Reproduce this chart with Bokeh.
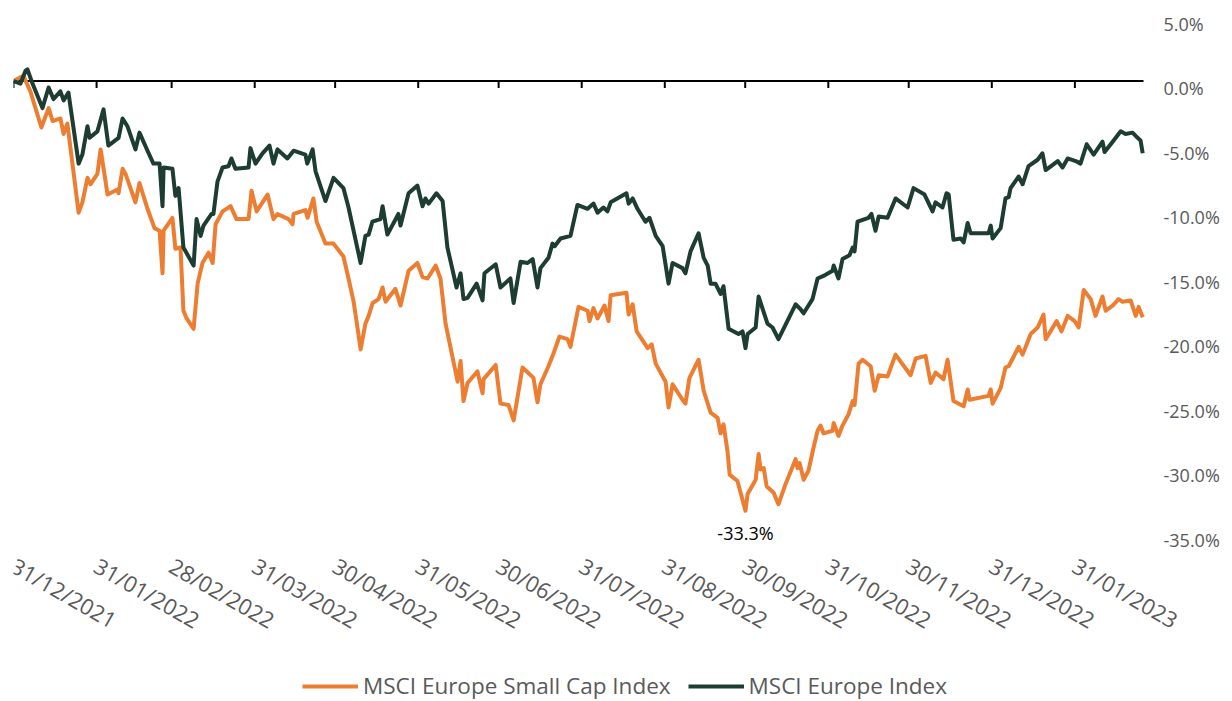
import pandas as pd
from bokeh.plotting import figure
from bokeh.models import (Range1d, LinearAxis, FixedTicker, PrintfTickFormatter,
                          Legend, LegendItem, Label, ColumnDataSource)
from bokeh.embed import file_html
from bokeh.resources import INLINE

# ---------------- data ----------------
tick_labels = ["31/12/2021", "31/01/2022", "28/02/2022", "31/03/2022", "30/04/2022",
               "31/05/2022", "30/06/2022", "31/07/2022", "31/08/2022", "30/09/2022",
               "31/10/2022", "30/11/2022", "31/12/2022", "31/01/2023"]
y_ticks = [5, 0, -5, -10, -15, -20, -25, -30, -35]

# days since 31/12/2021
europe_days = [
    0, 2.6, 4.5, 5.2, 7.1, 10.8, 13.1, 14.9, 17.5, 18.7,
    20.5, 24.3, 25.7, 27.6, 28.4, 31.3, 33.6, 35.4, 39.2, 40.7,
    42.5, 45.5, 47.0, 50.0, 52.2, 54.5, 55.6, 56.0, 59.3, 60.4,
    61.6, 63.4, 67.2, 68.3, 69.8, 70.9, 73.9, 74.6, 76.1, 78.0,
    80.2, 81.3, 82.8, 87.7, 88.4, 90.3, 92.9, 95.5, 97.0, 98.5,
    102.2, 104.5, 108.9, 109.6, 111.6, 112.7, 116.4, 119.4, 123.1, 125.0,
    129.5, 131.3, 132.5, 133.9, 136.9, 137.7, 139.5, 143.6, 144.4, 147.4,
    150.7, 152.6, 153.7, 154.9, 157.8, 160.1, 161.9, 165.3, 166.8, 167.9,
    169.4, 172.8, 175.0, 175.7, 179.9, 181.7, 185.4, 186.6, 189.2, 191.8,
    193.7, 195.5, 196.6, 199.6, 201.1, 201.9, 204.1, 207.8, 210.4, 214.2,
    216.4, 217.9, 220.1, 221.6, 222.8, 228.7, 229.5, 231.0, 232.8, 235.8,
    237.3, 239.6, 242.2, 244.4, 245.9, 249.6, 250.7, 252.6, 255.6, 257.5,
    259.0, 260.1, 261.9, 263.8, 264.9, 266.8, 270.5, 272.0, 273.1, 273.9,
    276.9, 278.0, 281.3, 283.2, 285.4, 291.8, 293.7, 294.8, 298.1, 300.0,
    302.2, 305.6, 306.0, 307.8, 309.3, 311.9, 313.1, 313.8, 314.9, 319.0,
    320.1, 321.6, 322.8, 326.1, 329.1, 333.6, 335.8, 339.9, 342.9, 344.0,
    346.6, 348.1, 348.9, 350.7, 353.4, 354.5, 356.0, 357.1, 363.8, 364.6,
    365.3, 368.3, 370.1, 371.3, 372.0, 375.0, 376.5, 378.7, 382.1, 383.9,
    385.1, 389.6, 391.4, 393.3, 396.3, 398.1, 400.4, 403.0, 406.3, 407.1,
    410.1, 413.1, 414.9, 417.5, 419.4, 420.5, 421.3]
europe_values = [
    0.0, -0.2, 0.8, 0.9, -0.2, -2.1, -0.5, -1.4, -0.8, -1.5,
    -0.9, -6.4, -5.7, -3.5, -4.4, -3.9, -2.2, -5.0, -4.4, -2.9,
    -3.5, -5.3, -4.0, -5.4, -6.4, -6.4, -9.7, -6.7, -6.8, -8.9,
    -8.3, -12.9, -14.3, -10.7, -12.0, -11.2, -10.3, -10.3, -7.8, -6.7,
    -6.6, -6.0, -6.8, -6.7, -5.2, -6.4, -5.6, -5.0, -6.4, -5.3,
    -6.0, -5.4, -5.7, -6.4, -5.3, -7.0, -9.3, -7.5, -8.3, -9.8,
    -14.1, -12.0, -11.9, -10.9, -10.7, -9.7, -11.9, -10.3, -11.2, -8.7,
    -8.1, -9.7, -9.1, -9.5, -8.7, -9.3, -12.9, -16.0, -14.9, -16.9,
    -16.8, -15.7, -17.0, -14.9, -14.2, -16.0, -15.3, -17.2, -14.0, -14.1,
    -13.8, -16.0, -14.5, -13.7, -12.6, -12.8, -12.2, -12.0, -9.6, -9.9,
    -9.5, -10.2, -9.8, -10.1, -9.4, -8.7, -9.5, -9.1, -9.9, -10.9,
    -10.6, -12.0, -12.8, -15.7, -14.1, -14.5, -14.9, -13.2, -11.8, -13.7,
    -14.3, -15.7, -15.7, -16.5, -15.9, -19.2, -19.6, -19.4, -20.7, -19.6,
    -19.1, -16.7, -18.8, -19.1, -20.0, -17.3, -17.7, -18.0, -16.9, -15.3,
    -15.1, -14.7, -14.3, -15.3, -13.8, -13.5, -12.9, -13.2, -10.9, -10.6,
    -10.3, -11.6, -10.5, -10.6, -9.1, -9.8, -8.3, -8.8, -10.1, -9.4,
    -9.8, -8.7, -8.8, -12.3, -12.2, -12.5, -11.0, -11.8, -11.8, -11.2,
    -12.2, -11.4, -9.1, -9.0, -8.3, -7.4, -8.0, -6.6, -6.1, -5.6,
    -6.9, -6.2, -6.7, -6.0, -6.2, -6.4, -4.9, -5.7, -4.7, -5.5,
    -4.7, -3.9, -4.1, -4.0, -4.4, -4.6, -5.6]

small_cap_days = [
    0, 3.7, 6.3, 10.4, 13.1, 14.6, 17.5, 18.7, 20.1, 24.3,
    25.7, 27.6, 28.7, 31.3, 32.5, 35.1, 38.8, 39.2, 40.7, 41.8,
    45.5, 47.0, 50.0, 52.6, 54.5, 55.6, 56.0, 59.3, 60.4, 62.3,
    63.4, 64.6, 67.2, 68.7, 70.5, 72.8, 74.3, 75.4, 78.0, 81.0,
    83.2, 87.7, 88.8, 90.7, 94.8, 97.0, 98.5, 102.6, 104.1, 104.5,
    108.9, 109.7, 111.9, 113.1, 116.4, 119.4, 123.1, 125.0, 126.9, 128.7,
    129.5, 131.3, 132.5, 134.0, 136.2, 137.7, 138.8, 142.5, 144.4, 147.4,
    150.7, 152.6, 154.5, 157.5, 159.3, 161.2, 165.7, 166.8, 167.9, 169.4,
    173.1, 175.0, 175.4, 179.9, 181.7, 184.7, 186.6, 189.9, 194.0, 195.5,
    196.6, 199.6, 201.5, 203.7, 206.7, 207.8, 210.8, 214.2, 214.9, 216.4,
    217.9, 220.5, 222.0, 222.8, 228.7, 229.5, 231.0, 232.5, 236.6, 238.1,
    239.6, 243.3, 244.4, 245.9, 249.6, 250.7, 252.2, 255.6, 257.5, 260.1,
    262.7, 263.8, 264.9, 266.4, 267.2, 270.1, 273.1, 273.9, 276.9, 278.0,
    278.7, 279.9, 281.0, 283.6, 285.4, 288.1, 291.8, 292.5, 293.3, 294.8,
    296.6, 298.5, 300.0, 301.1, 302.2, 305.6, 306.0, 307.8, 309.3, 311.6,
    313.1, 313.8, 315.3, 316.8, 319.8, 321.3, 322.8, 326.1, 329.1, 334.7,
    336.6, 340.3, 342.2, 344.0, 347.0, 348.5, 350.7, 354.5, 356.0, 356.7,
    363.8, 364.6, 365.3, 368.3, 370.1, 371.3, 372.8, 375.0, 376.5, 379.5,
    382.1, 384.3, 385.1, 386.9, 389.2, 391.0, 393.3, 395.9, 397.4, 399.3,
    401.9, 403.7, 406.3, 407.5, 410.1, 412.3, 413.8, 416.8, 418.7, 419.8, 421.3]
small_cap_values = [
    0.0, 0.4, -0.8, -3.6, -2.1, -3.1, -2.9, -4.1, -3.3, -10.2,
    -9.4, -7.5, -8.0, -7.2, -5.3, -8.8, -8.4, -8.7, -6.8, -7.2,
    -9.4, -7.9, -9.9, -11.4, -11.6, -14.9, -11.6, -10.6, -13.0, -12.9,
    -17.8, -18.4, -19.2, -15.7, -14.1, -13.3, -14.1, -11.1, -10.1, -9.7,
    -10.7, -10.7, -8.5, -10.1, -8.8, -10.7, -10.3, -10.7, -11.1, -10.3,
    -10.0, -10.6, -9.1, -10.9, -12.6, -12.6, -13.6, -15.3, -17.1, -19.6,
    -20.8, -18.8, -18.2, -17.2, -16.9, -16.0, -17.1, -16.1, -17.4, -14.7,
    -14.1, -15.2, -15.3, -14.3, -15.3, -18.8, -23.3, -21.7, -24.8, -23.4,
    -22.5, -24.2, -23.1, -22.0, -25.0, -25.1, -26.3, -22.2, -23.0, -24.9,
    -23.5, -22.1, -21.1, -19.8, -20.0, -20.6, -17.5, -17.8, -18.6, -17.6,
    -18.4, -17.4, -18.6, -16.6, -16.4, -18.1, -17.3, -19.4, -20.7, -20.4,
    -21.9, -23.3, -25.3, -23.5, -24.7, -25.0, -23.0, -21.6, -24.0, -25.7,
    -26.1, -27.3, -26.6, -28.7, -30.5, -31.0, -33.3, -32.0, -30.9, -28.9,
    -30.1, -30.0, -31.4, -31.9, -32.8, -31.2, -29.3, -30.0, -29.6, -30.9,
    -30.2, -28.4, -27.1, -26.7, -27.3, -27.1, -26.5, -27.5, -26.7, -25.8,
    -24.8, -25.1, -21.9, -21.6, -22.1, -24.0, -22.8, -22.9, -21.2, -22.8,
    -21.5, -21.3, -23.4, -22.6, -23.1, -21.6, -24.8, -25.2, -23.9, -24.7,
    -24.4, -23.9, -25.0, -23.8, -22.2, -22.1, -21.5, -20.6, -21.2, -19.6,
    -19.1, -18.1, -20.0, -19.4, -18.6, -19.4, -18.2, -18.6, -19.1, -16.2,
    -16.9, -18.2, -16.7, -17.8, -17.4, -16.9, -17.1, -17.0, -18.2, -17.5, -18.3]

# ---------------- styling ----------------
ORANGE = "#ED7D31"
DARK = "#1D3C32"
GREY = "#595959"
FONT = "Open Sans"

base = pd.Timestamp("2021-12-31")
tick_days = [int((pd.to_datetime(t, dayfirst=True) - base).days) for t in tick_labels]

PX_PER_DAY = 1130 / 421.6
AXIS_END = 421.6           # where the zero axis line ends
EXTRA_PX = 40              # extra frame room on the right for the last rotated label
FRAME_W = 1130 + EXTRA_PX
PX_PER_PCT = 542 / 42.0
FRAME_H = 685
Y1 = 5.0
Y0 = Y1 - FRAME_H / PX_PER_PCT
X_AXIS_AT = -37.0
label_shift = 7 / PX_PER_PCT

p = figure(frame_width=FRAME_W, frame_height=FRAME_H,
           x_range=Range1d(0, AXIS_END + EXTRA_PX / PX_PER_DAY), y_range=Range1d(Y0, Y1),
           output_backend="svg", toolbar_location=None,
           y_axis_location=None,
           min_border_left=13, min_border_top=16, min_border_right=0,
           min_border_bottom=0)
p.outline_line_color = None
p.xgrid.grid_line_color = None
p.ygrid.grid_line_color = None
p.background_fill_color = "white"
p.border_fill_color = "white"

# bottom axis: rotated date labels only (placed inside the frame)
xa = p.xaxis[0]
xa.fixed_location = X_AXIS_AT
xa.ticker = FixedTicker(ticks=tick_days)
xa.major_label_overrides = {d: t for d, t in zip(tick_days, tick_labels)}
xa.major_label_orientation = -0.52
xa.axis_line_color = None
xa.major_tick_line_color = None
xa.minor_tick_line_color = None
xa.major_tick_in = 0
xa.major_tick_out = 0
xa.major_label_standoff = 5
xa.major_label_text_font = FONT
xa.major_label_text_font_size = "22px"
xa.major_label_text_color = GREY

# right axis: percentage labels
p.extra_y_ranges = {"lab": Range1d(Y0 + label_shift, Y1 + label_shift)}
ya = LinearAxis(y_range_name="lab", ticker=FixedTicker(ticks=y_ticks),
                formatter=PrintfTickFormatter(format="%.1f%%"))
ya.axis_line_color = None
ya.major_tick_line_color = None
ya.minor_tick_line_color = None
ya.major_tick_in = 0
ya.major_tick_out = 0
ya.major_label_standoff = 20 - EXTRA_PX
ya.major_label_text_font = FONT
ya.major_label_text_font_size = "18px"
ya.major_label_text_color = GREY
p.add_layout(ya, "right")

# zero line with month-end tick marks
p.segment(x0=[0], y0=[0], x1=[AXIS_END], y1=[0], line_color="black", line_width=2)
tick_len = 7 / PX_PER_PCT
p.segment(x0=tick_days, y0=[0] * len(tick_days), x1=tick_days,
          y1=[-tick_len] * len(tick_days), line_color="black", line_width=2)

src_small = ColumnDataSource(dict(x=small_cap_days, y=small_cap_values))
src_eu = ColumnDataSource(dict(x=europe_days, y=europe_values))
r_small = p.line("x", "y", source=src_small, line_color=ORANGE, line_width=4,
                 line_join="round")
r_eu = p.line("x", "y", source=src_eu, line_color=DARK, line_width=4,
              line_join="round")

# min annotation
imin = min(range(len(small_cap_values)), key=lambda i: small_cap_values[i])
p.add_layout(Label(x=small_cap_days[imin], y=small_cap_values[imin],
                   text=f"{small_cap_values[imin]:.1f}%", text_align="center",
                   text_baseline="top", y_offset=-10, text_font=FONT,
                   text_font_size="18px", text_color="black"))

legend = Legend(items=[LegendItem(label="MSCI Europe Small Cap Index", renderers=[r_small]),
                       LegendItem(label="MSCI Europe Index", renderers=[r_eu])],
                orientation="horizontal", location=(289, 0),
                margin=0, padding=0, spacing=17, label_standoff=5,
                glyph_width=56, glyph_height=20,
                border_line_color=None, background_fill_alpha=0,
                label_text_font=FONT, label_text_font_size="22.5px",
                label_text_color=GREY)
p.add_layout(legend)

open("out.html", "w").write(file_html(p, INLINE))
